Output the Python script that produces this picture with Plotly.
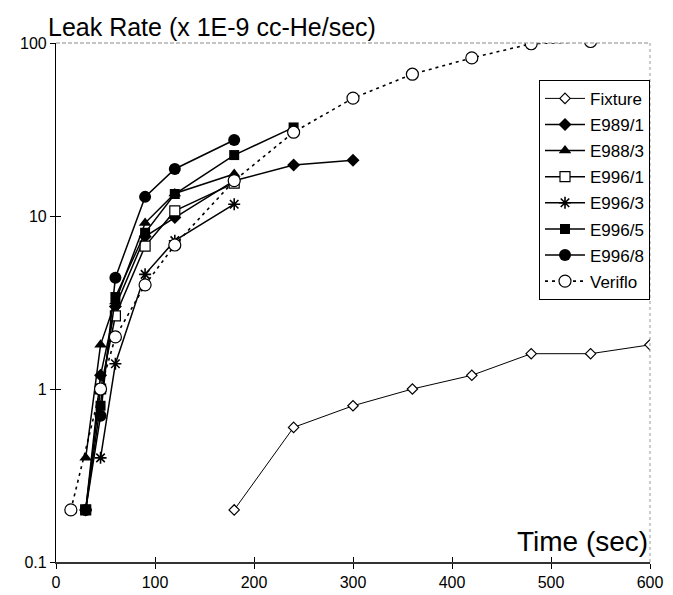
import plotly.graph_objects as go

series_names = ["Fixture", "E989/1", "E988/3", "E996/1", "E996/3", "E996/5", "E996/8", "Veriflo"]

fixture_x = [180, 240, 300, 360, 420, 480, 540, 600]
fixture_y = [0.2, 0.6, 0.8, 1.0, 1.2, 1.6, 1.6, 1.8]

e989_1_x = [30, 45, 60, 90, 120, 180, 240, 300]
e989_1_y = [0.2, 1.2, 3.0, 7.6, 9.8, 16, 19.7, 21]

e988_3_x = [30, 45, 60, 90, 120, 180]
e988_3_y = [0.4, 1.8, 3.2, 9.1, 13.5, 17.5]

e996_1_x = [30, 45, 60, 90, 120, 180]
e996_1_y = [0.2, 1.0, 2.65, 6.7, 10.7, 15.5]

e996_3_x = [45, 60, 90, 120, 180]
e996_3_y = [0.4, 1.4, 4.6, 7.2, 11.7]

e996_5_x = [30, 45, 60, 90, 120, 180, 240]
e996_5_y = [0.2, 0.8, 3.4, 8.0, 13.4, 22.5, 32.5]

e996_8_x = [30, 45, 60, 90, 120, 180]
e996_8_y = [0.2, 0.7, 4.4, 12.9, 18.7, 27.5]

veriflo_x = [15, 45, 60, 90, 120, 180, 240, 300, 360, 420, 480, 540]
veriflo_y = [0.2, 1.0, 2.0, 4.0, 6.8, 16, 30.5, 48, 66, 82, 99, 102]

x_ticks = [0, 100, 200, 300, 400, 500, 600]
y_ticks = [0.1, 1, 10, 100]
y_tick_labels = ["0.1", "1", "10", "100"]

FONT = "Liberation Sans, Arial, sans-serif"

open_line = dict(width=1.2, color="black")
styles = [
    (fixture_x, fixture_y, dict(symbol="diamond", size=8, color="white", line=open_line), "solid", 1.0),
    (e989_1_x, e989_1_y, dict(symbol="diamond", size=10, color="black"), "solid", 1.5),
    (e988_3_x, e988_3_y, dict(symbol="triangle-up", size=11, color="black"), "solid", 1.5),
    (e996_1_x, e996_1_y, dict(symbol="square", size=10, color="white", line=open_line), "solid", 1.5),
    (e996_3_x, e996_3_y, dict(symbol="asterisk-open", size=10, color="black", line=dict(width=1.6, color="black")), "solid", 1.5),
    (e996_5_x, e996_5_y, dict(symbol="square", size=10, color="black"), "solid", 1.5),
    (e996_8_x, e996_8_y, dict(symbol="circle", size=12, color="black"), "solid", 1.5),
    (veriflo_x, veriflo_y, dict(symbol="circle", size=12, color="white", line=open_line), "3px,4px", 1.6),
]

fig = go.Figure()
for name, (xs, ys, mk, dash, lw) in zip(series_names, styles):
    fig.add_trace(go.Scatter(
        x=xs, y=ys, name=name, mode="lines+markers", legendgroup=name,
        line=dict(color="black", width=lw, dash=dash),
        marker=mk,
    ))

fig.update_layout(
    width=673, height=595,
    margin=dict(l=45, r=31, t=35, b=37),
    paper_bgcolor="white", plot_bgcolor="white",
    font=dict(family=FONT, size=16, color="black"),
    showlegend=True,
    legend=dict(
        x=1.0, y=0.929, xanchor="right", yanchor="top",
        bordercolor="black", borderwidth=1, bgcolor="white",
        font=dict(family=FONT, size=17, color="black"),
        tracegroupgap=1, itemwidth=40,
    ),
    xaxis=dict(
        range=[0, 600], tickvals=x_ticks, ticks="outside", ticklen=5,
        tickcolor="black", showline=True, linecolor="#333333", linewidth=2,
        showgrid=False, zeroline=False, tickfont=dict(size=16),
    ),
    xaxis2=dict(
        range=[0, 600], tickvals=x_ticks, ticks="inside", ticklen=5,
        tickcolor="black", showline=False, showgrid=False, zeroline=False,
        showticklabels=False, overlaying="x", side="bottom", anchor="y",
    ),
    yaxis=dict(
        type="log", range=[-1, 2], tickvals=y_ticks, ticktext=y_tick_labels,
        ticks="outside", ticklen=5, tickcolor="black", showline=True,
        linecolor="black", linewidth=1.2, showgrid=False, zeroline=False,
        tickfont=dict(size=16),
    ),
    yaxis2=dict(
        type="log", range=[-1, 2], tickvals=y_ticks, ticks="inside", ticklen=5,
        tickcolor="black", showline=False, showgrid=False, zeroline=False,
        showticklabels=False, overlaying="y", side="left", anchor="x",
    ),
    annotations=[
        dict(text="Leak Rate (x 1E-9 cc-He/sec)", xref="paper", yref="paper",
             x=-0.017, y=1.0, xanchor="left", yanchor="bottom", showarrow=False,
             font=dict(family=FONT, size=25, color="black")),
        dict(text="Time (sec)", xref="paper", yref="paper",
             x=1.0, y=0.005, xanchor="right", yanchor="bottom", showarrow=False,
             font=dict(family=FONT, size=28, color="black")),
    ],
    shapes=[
        dict(type="line", xref="paper", yref="paper", x0=0, x1=1, y0=1, y1=1,
             line=dict(color="#888888", width=1, dash="4px,2px")),
        dict(type="line", xref="paper", yref="paper", x0=1, x1=1, y0=0, y1=1,
             line=dict(color="#999999", width=1, dash="dot")),
    ],
)
# invisible helper trace so the overlay tick axes are drawn
fig.add_trace(go.Scatter(x=[None], y=[None], xaxis="x2", yaxis="y2",
                         showlegend=False, hoverinfo="skip"))

fig.write_html("out.html")
